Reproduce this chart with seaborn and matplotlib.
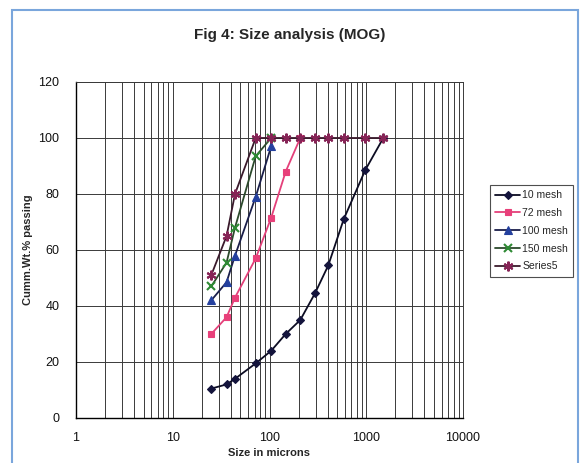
import numpy as np
import pandas as pd
import matplotlib
matplotlib.use('Agg')
import matplotlib.pyplot as plt
import seaborn as sns
from matplotlib.patches import Rectangle
from matplotlib.lines import Line2D
from matplotlib.ticker import LogLocator, FixedLocator, NullFormatter

# ---- data ----
sizes = [25, 36, 44, 72, 104, 147, 208, 295, 405, 585, 975, 1500]
mesh10 = [10.5, 12, 14, 19.5, 24, 30, 35, 44.5, 54.5, 71, 88.5, 100]
mesh72 = [30, 36, 43, 57, 71.5, 88, 100]
mesh100 = [42, 48.5, 58, 79, 97]
mesh150 = [47, 55.5, 68, 93.5, 100]
series5 = [51, 65, 80, 100, 100, 100, 100, 100, 100, 100, 100, 100]
series_names = ['10 mesh', '72 mesh', '100 mesh', '150 mesh', 'Series5']
series_values = [mesh10, mesh72, mesh100, mesh150, series5]
y_ticks = [0, 20, 40, 60, 80, 100, 120]
x_ticks = [1, 10, 100, 1000, 10000]
x_tick_labels = ['1', '10', '100', '1000', '10000']

rows = []
for name, vals in zip(series_names, series_values):
    for s, v in zip(sizes, vals):
        rows.append({'size': s, 'passing': v, 'series': name})
df = pd.DataFrame(rows)

sns.set_style('white')
plt.rcParams['font.family'] = ['Liberation Sans', 'DejaVu Sans']

styles = {
    '10 mesh': dict(color='#0c0c22', marker='D', markerfacecolor='#14143c',
                    markeredgecolor='#14143c', markersize=4.5, markeredgewidth=0.8),
    '72 mesh': dict(color='#e4407a', marker='s', markerfacecolor='#e8407a',
                    markeredgecolor='#e8407a', markersize=5, markeredgewidth=0.8),
    '100 mesh': dict(color='#1a1e4a', marker='^', markerfacecolor='#24409e',
                     markeredgecolor='#24409e', markersize=5.5, markeredgewidth=0.8),
    '150 mesh': dict(color='#2c4a2c', marker='x', markerfacecolor='#2e8a34',
                     markeredgecolor='#2e8a34', markersize=5.5, markeredgewidth=1.5),
    'Series5': dict(color='#3a1a2c', marker=(6, 2, 0), markerfacecolor='#862456',
                    markeredgecolor='#862456', markersize=7, markeredgewidth=1.5),
}

fig = plt.figure(figsize=(5.82, 4.63), dpi=100)
ax = fig.add_axes([76 / 582, 45 / 463, (463 - 76) / 582, (418 - 82) / 463])

for name in series_names:
    sub = df[df['series'] == name]
    sns.lineplot(data=sub, x='size', y='passing', ax=ax, linewidth=1.3,
                 legend=False, **styles[name])

ax.set_xscale('log')
ax.set_xlim(1, 10000)
ax.set_ylim(0, 120)
ax.set_yticks(y_ticks)
ax.set_yticklabels([str(t) for t in y_ticks], fontsize=9)
ax.xaxis.set_major_locator(FixedLocator(x_ticks))
ax.set_xticklabels(x_tick_labels, fontsize=9)
ax.xaxis.set_minor_locator(LogLocator(base=10, subs=np.arange(2, 10)))
ax.xaxis.set_minor_formatter(NullFormatter())
ax.tick_params(axis='x', which='major', length=4, width=0.8, direction='out', pad=6, colors='#111111')
ax.tick_params(axis='x', which='minor', length=0)
ax.tick_params(axis='y', which='major', length=4, width=0.8, direction='out', pad=8, colors='#111111')

ax.grid(True, axis='x', which='both', color='#3a3a3a', linewidth=0.7)
ax.grid(True, axis='y', which='major', color='#3a3a3a', linewidth=0.7)
ax.set_axisbelow(True)
for side in ['top', 'right']:
    ax.spines[side].set_color('#3a3a3a')
    ax.spines[side].set_linewidth(0.7)
for side in ['left', 'bottom']:
    ax.spines[side].set_color('#000000')
    ax.spines[side].set_linewidth(1.0)

ax.set_xlabel('Size in microns', fontsize=8, fontweight='bold', labelpad=3)
ax.set_ylabel('Cumm.Wt.% passing', fontsize=8, fontweight='bold', labelpad=4)

fig.text(290 / 582, 1 - 35 / 463, 'Fig 4: Size analysis (MOG)', ha='center', va='center',
         fontsize=11, fontweight='bold')

handles = [Line2D([0], [0], linewidth=1.3, **styles[n]) for n in series_names]
leg = ax.legend(handles, series_names, loc='upper left',
                bbox_to_anchor=(490 / 582, 1 - 185 / 463), bbox_transform=fig.transFigure,
                fontsize=7.5, frameon=True, fancybox=False, edgecolor='#222222',
                handlelength=2.4, handletextpad=0.2, labelspacing=0.75,
                borderpad=0.5, borderaxespad=0)
leg.get_frame().set_linewidth(0.8)

fig.patches.append(Rectangle((12 / 582, -0.02), (578 - 12) / 582, 1 - 10 / 463 + 0.02,
                             transform=fig.transFigure, fill=False,
                             edgecolor='#7aa6dc', linewidth=1.5))

fig.savefig('out.png', dpi=100)
